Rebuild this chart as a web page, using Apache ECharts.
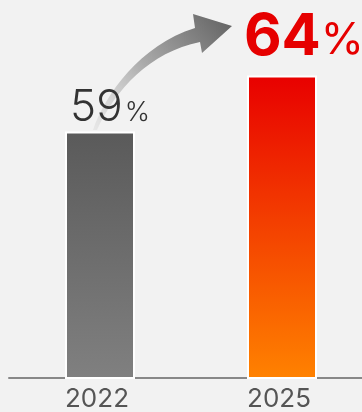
<!DOCTYPE html>
<html>
<head>
<meta charset="utf-8">
<script src="https://cdn.jsdelivr.net/npm/echarts@6/dist/echarts.min.js"></script>
<style>
  html, body { margin: 0; padding: 0; background: #f2f2f2; }
  #chart { width: 362px; height: 412px; }
</style>
</head>
<body>
<div id="chart"></div>
<script>
const years = ['2022', '2025'];
const shares = [59, 64];
const barColors = [
  ['#5a5a5a', '#808080'],
  ['#e80000', '#ff8200']
];

// decorative curved arrow between the two labels
echarts.graphic.registerShape('curvedArrow', echarts.graphic.extendPath(
  'M93,130 C105,95 140,45 195,28 L193,14 L232,26 L202,53 L200,42 C150,52 115,90 97,130 Z'
));

const chart = echarts.init(document.getElementById('chart'));

const grad = (x, y, x2, y2, stops) => ({
  type: 'linear', x: x, y: y, x2: x2, y2: y2,
  colorStops: stops.map(s => ({ offset: s[0], color: s[1] }))
});

const labelStyles = [
  {
    offset: [10, 2],
    rich: {
      n: { fontFamily: 'Inter', fontSize: 44, fontWeight: 300, color: '#333', verticalAlign: 'bottom' },
      p: { fontFamily: 'Inter', fontSize: 27, fontWeight: 300, color: '#333', verticalAlign: 'bottom', padding: [0, 0, 3, 2] }
    }
  },
  {
    offset: [22, -5.5],
    rich: {
      n: { fontFamily: 'Inter', fontSize: 58, fontWeight: 'bold', color: '#e60000', verticalAlign: 'bottom' },
      p: { fontFamily: 'Inter', fontSize: 44, fontWeight: 'normal', color: '#e60000', verticalAlign: 'bottom', padding: [0, 0, 3, 0] }
    }
  }
];

chart.setOption({
  backgroundColor: '#f2f2f2',
  animation: false,
  grid: { left: 9, width: 364, top: 8.4, bottom: 34, outerBoundsMode: 'none', containLabel: false },
  xAxis: {
    type: 'category',
    data: years,
    axisTick: { show: false },
    axisLine: { lineStyle: { color: '#888', width: 2 } },
    axisLabel: { fontFamily: 'Inter', fontSize: 26, color: '#555', margin: 8, padding: [0, 6, 0, 0] }
  },
  yAxis: {
    type: 'value',
    min: 37,
    max: 70,
    show: false,
    splitLine: { show: false }
  },
  series: [{
    type: 'bar',
    barWidth: 70,
    z: 2,
    data: shares.map((v, i) => ({
      value: v,
      itemStyle: {
        color: grad(0, 0, 0, 1, [[0, barColors[i][0]], [1, barColors[i][1]]]),
        borderColor: '#fff',
        borderWidth: 2
      },
      label: {
        show: true,
        position: 'top',
        distance: 4,
        offset: labelStyles[i].offset,
        formatter: '{n|' + v + '}{p|%}',
        rich: labelStyles[i].rich
      }
    }))
  }],
  graphic: [{
    type: 'curvedArrow',
    z: 1,
    style: {
      fill: grad(0, 1, 1, 0, [[0, 'rgba(215,215,215,0.4)'], [0.45, '#aaaaaa'], [1, '#606060']])
    }
  }]
});
</script>
</body>
</html>
